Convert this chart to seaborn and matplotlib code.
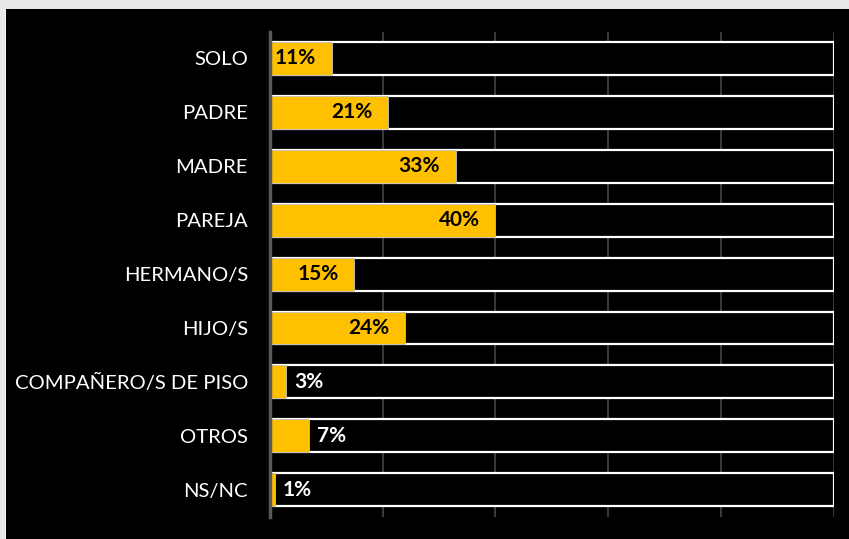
import matplotlib
matplotlib.use("Agg")
import matplotlib.pyplot as plt
import seaborn as sns
import pandas as pd
from matplotlib.patches import Rectangle

categories = ["SOLO", "PADRE", "MADRE", "PAREJA", "HERMANO/S", "HIJO/S",
              "COMPAÑERO/S DE PISO", "OTROS", "NS/NC"]
values = [11, 21, 33, 40, 15, 24, 3, 7, 1]
total = [100] * len(categories)

sns.set_theme(style="white")
plt.rcParams["font.family"] = ["Lato", "DejaVu Sans"]

df = pd.DataFrame({"cat": categories, "val": values, "total": total})

fig = plt.figure(figsize=(8.49, 5.39), dpi=100)
fig.patch.set_facecolor("#E7E8EA")
fig.patches.append(Rectangle((6 / 849, 0), 1, (539 - 9) / 539, transform=fig.transFigure,
                             facecolor="black", edgecolor="none", zorder=-10))
fig.patches.append(Rectangle((5 / 849, 0), 1 / 849, (539 - 9) / 539, transform=fig.transFigure,
                             facecolor="#F5F5F5", edgecolor="none", zorder=-10))

ax = fig.add_axes([269.5 / 849, 1 - 516.7 / 539, (834.5 - 269.5) / 849, (516.7 - 31.5) / 539])
ax.set_facecolor("black")

sns.barplot(data=df, y="cat", x="total", orient="h", color="black", width=0.61,
            edgecolor="white", linewidth=1.6, ax=ax, saturation=1, zorder=3)
sns.barplot(data=df, y="cat", x="val", orient="h", color="#FFC000", width=0.61,
            edgecolor="#BFBFBF", linewidth=0.6, ax=ax, saturation=1, zorder=4)

ax.set_xlim(0, 100)
ax.set_ylim(len(categories) - 0.5, -0.5)
ax.set_xticks([0, 20, 40, 60, 80, 100])
ax.set_xticklabels([])
ax.xaxis.grid(True, color="#404040", linewidth=1.3, zorder=0)
ax.set_axisbelow(True)
ax.tick_params(axis="both", length=0)
ax.tick_params(axis="y", pad=15.5, labelsize=14.6, labelcolor="white")
ax.set_xlabel("")
ax.set_ylabel("")
for s in ["top", "right", "bottom"]:
    ax.spines[s].set_visible(False)
ax.spines["left"].set_color("#595959")
ax.spines["left"].set_linewidth(2.5)
ax.spines["left"].set_zorder(6)

for i, v in enumerate(values):
    txt = f"{v}%"
    if v >= 10:
        ax.text(v - 2.8, i, txt, ha="right", va="center", color="black",
                fontsize=15, fontweight="bold", zorder=7)
    else:
        ax.text(v + 1.4, i, txt, ha="left", va="center", color="white",
                fontsize=15, fontweight="bold", zorder=7)

fig.savefig("out.png", dpi=100, facecolor=fig.get_facecolor())
